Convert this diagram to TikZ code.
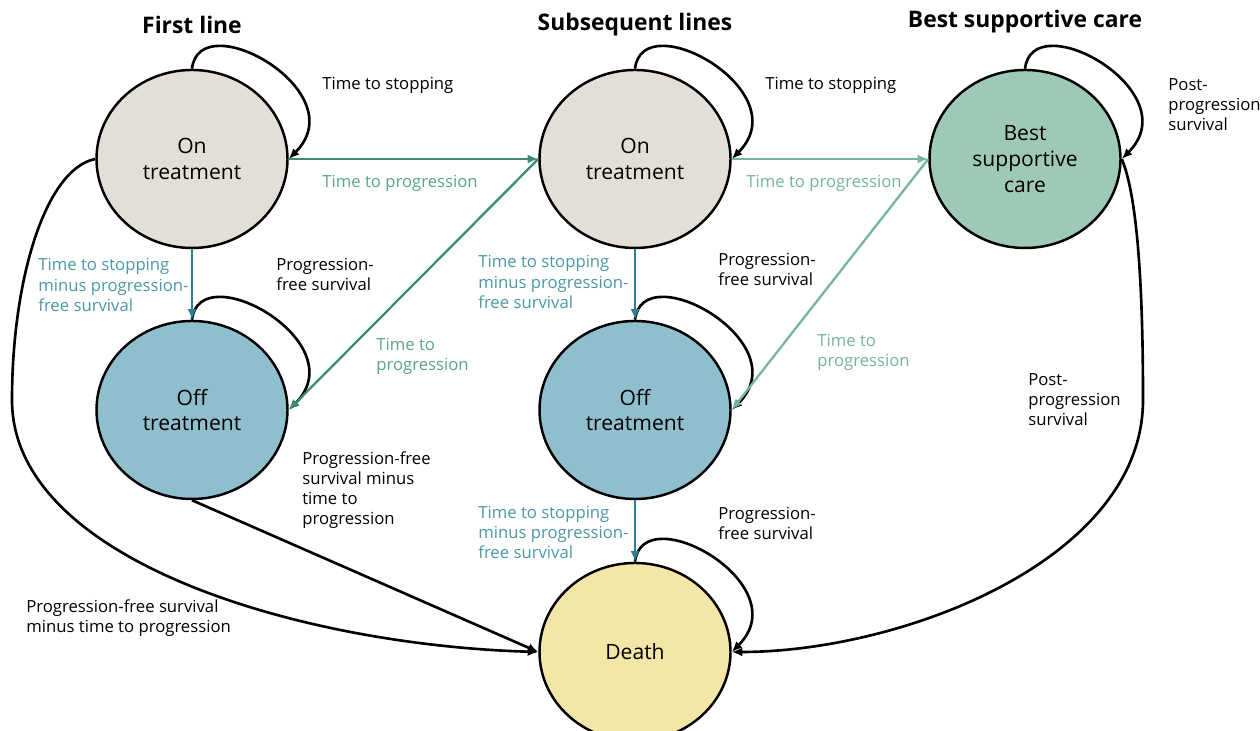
\documentclass[tikz,border=0pt]{standalone}
\usepackage{fontspec}
\setmainfont{Open Sans}
\usetikzlibrary{arrows.meta,shapes.geometric}

\definecolor{oncol}{HTML}{E4DFD6}
\definecolor{offcol}{HTML}{8FBFCC}
\definecolor{bsccol}{HTML}{9EC9B6}
\definecolor{deathcol}{HTML}{F3E6A6}
\definecolor{progdark}{HTML}{3D8A78}
\definecolor{proglight}{HTML}{76B4A0}
\definecolor{stopcol}{HTML}{2E7D91}
\definecolor{progdarktext}{HTML}{5AA38F}
\definecolor{proglighttext}{HTML}{74B39E}
\definecolor{stoptext}{HTML}{4B97A8}

\begin{document}
\begin{tikzpicture}[
	stateball/.style={ellipse,draw=black,line width=1.4pt,minimum width=3.82cm,minimum height=3.56cm,inner sep=0pt,align=center,font=\fontsize{12}{14.7}\selectfont},
	title/.style={font=\fontsize{13}{15}\selectfont\bfseries},
	lbl/.style={anchor=west,align=left,inner sep=0pt,font=\fontsize{9.5}{11.4}\selectfont},
	blackedge/.style={line width=1.5pt,-{Latex[length=6pt,width=5pt]}},
	coledge/.style={line width=1.3pt,-{Latex[length=6pt,width=5pt]}}
	]
	\useasboundingbox (0,0) rectangle (25.2,14.62);

	\node[stateball,fill=oncol] (FLon) at (3.84,11.44) {On\\treatment};
	\node[stateball,fill=offcol] (FLoff) at (3.84,6.42) {Off\\treatment};
	\node[stateball,fill=oncol] (SLon) at (12.70,11.44) {On\\treatment};
	\node[stateball,fill=offcol] (SLoff) at (12.70,6.42) {Off\\treatment};
	\node[stateball,fill=bsccol] (BSC) at (20.50,11.44) {Best\\supportive\\care};
	\node[stateball,fill=deathcol] (Death) at (12.70,1.58) {Death};

	\node[title] (FLtitle) at (3.84,14.12) {First line};
	\node[title] (SLtitle) at (12.70,14.12) {Subsequent lines};
	\node[title] (BSCtitle) at (20.50,14.18) {Best supportive care};

	\coordinate (leftbend) at (0.24,6.62);
	\coordinate (rightbend) at (22.86,6.62);

	% self loops
	\foreach \s in {FLon,SLon,BSC,FLoff,SLoff,Death}
		\draw[blackedge] (\s.north) .. controls +(0.15,1.3) and +(1.35,1.35) .. (\s.east);

	% moves between states
	\draw[coledge,progdark] (FLon.east) -- (SLon.west);
	\draw[coledge,progdark] (SLon.west) -- (FLoff.east);
	\draw[coledge,proglight] (SLon.east) -- (BSC.west);
	\draw[coledge,proglight] (BSC.west) -- (SLoff.east);
	\draw[coledge,stopcol] (FLon.south) -- (FLoff.north);
	\draw[coledge,stopcol] (SLon.south) -- (SLoff.north);
	\draw[coledge,stopcol] (SLoff.south) -- (Death.north);
	\draw[blackedge] (FLoff.south) -- (Death.west);
	\draw[blackedge] (FLon.west) .. controls +(-1.0,-0.2) and +(0,2.4) .. (leftbend) .. controls +(0,-3.2) and +(-4.8,0.14) .. (Death.west);
	\draw[blackedge] (BSC.east) .. controls +(0.34,-0.8) and +(0,2.0) .. (rightbend) .. controls +(0,-3.2) and +(3.4,0) .. (Death.east);

	\node[lbl] (lFLstop) at (6.44,12.92) {Time to stopping};
	\node[lbl,progdarktext] (lFLprog) at (6.44,10.96) {Time to progression};
	\node[lbl] (lSLstop) at (15.30,12.92) {Time to stopping};
	\node[lbl,proglighttext] (lSLprog) at (14.92,10.96) {Time to progression};
	\node[lbl] (lBSCloop) at (23.36,12.52) {Post-\\progression\\survival};
	\node[lbl,stoptext] (lFLdown) at (0.76,8.92) {Time to stopping\\minus progression-\\free survival};
	\node[lbl] (lFLoff) at (5.52,9.14) {Progression-\\free survival};
	\node[lbl,progdarktext] (lFLdiag) at (7.52,7.50) {Time to\\progression};
	\node[lbl,stoptext] (lSLdown) at (9.56,8.98) {Time to stopping\\minus progression-\\free survival};
	\node[lbl] (lSLoff) at (14.36,9.24) {Progression-\\free survival};
	\node[lbl,proglighttext] (lSLdiag) at (16.34,7.58) {Time to\\progression};
	\node[lbl] (lBSCdeath) at (20.56,6.62) {Post-\\progression\\survival};
	\node[lbl] (lFLoffdeath) at (6.04,4.82) {Progression-free\\survival minus\\time to\\progression};
	\node[lbl,stoptext] (lSLdeath) at (9.56,3.98) {Time to stopping\\minus progression-\\free survival};
	\node[lbl] (lDeath) at (14.36,4.16) {Progression-\\free survival};
	\node[lbl] (lFLdeath) at (0.52,2.26) {Progression-free survival\\minus time to progression};
\end{tikzpicture}
\end{document}
